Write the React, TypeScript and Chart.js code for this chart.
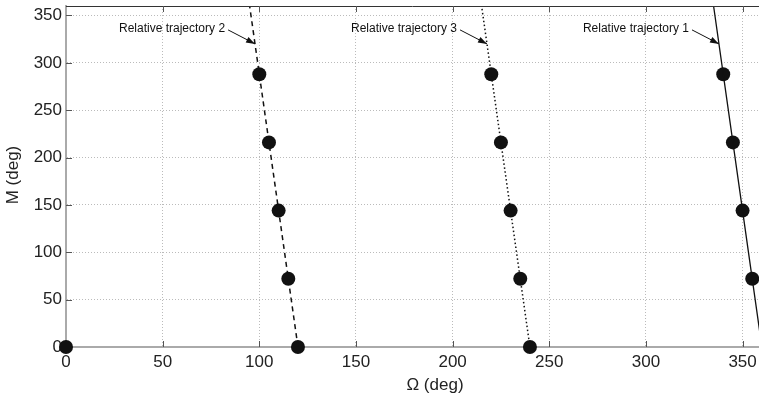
import React, { useEffect, useRef } from "react";
import { Chart, registerables } from "chart.js";

Chart.register(...registerables);

const xTicks = [0, 50, 100, 150, 200, 250, 300, 350];
const yTicks = [0, 50, 100, 150, 200, 250, 300, 350];

const trajM = [0, 72, 144, 216, 288, 360];
const traj1Omega = [360, 355, 350, 345, 340, 335];
const traj2Omega = [120, 115, 110, 105, 100, 95];
const traj3Omega = [240, 235, 230, 225, 220, 215];

const dotOmega = [0, 120, 115, 110, 105, 100, 240, 235, 230, 225, 220, 355, 350, 345, 340];
const dotM = [0, 0, 72, 144, 216, 288, 0, 72, 144, 216, 288, 72, 144, 216, 288];

const noteLabels = ["Relative trajectory 2", "Relative trajectory 3", "Relative trajectory 1"];
const noteOmega = [97.8, 217.8, 337.8];
const noteM = [320, 320, 320];

const FONT = "'Liberation Sans', Arial, Helvetica, sans-serif";

const toPts = (xs: number[], ys: number[]) => xs.map((x, i) => ({ x, y: ys[i] }));

const decoPlugin = {
  id: "deco",
  afterDatasetsDraw(chart: any) {
    const ctx = chart.ctx as CanvasRenderingContext2D;
    const { left, right, top, bottom } = chart.chartArea;
    const xs = chart.scales.x;
    const ys = chart.scales.y;
    ctx.save();
    // top border
    ctx.strokeStyle = "#333";
    ctx.lineWidth = 1;
    ctx.beginPath();
    ctx.moveTo(left, top + 0.5);
    ctx.lineTo(right, top + 0.5);
    ctx.stroke();
    // inner ticks
    ctx.strokeStyle = "#555";
    ctx.beginPath();
    xTicks.forEach((v) => {
      if (v === 0) return;
      const px = Math.round(xs.getPixelForValue(v)) + 0.5;
      ctx.moveTo(px, bottom);
      ctx.lineTo(px, bottom - 6);
      ctx.moveTo(px, top);
      ctx.lineTo(px, top + 6);
    });
    yTicks.forEach((v) => {
      if (v === 0) return;
      const py = Math.round(ys.getPixelForValue(v)) + 0.5;
      ctx.moveTo(left, py);
      ctx.lineTo(left + 6, py);
    });
    ctx.stroke();
    ctx.restore();
  },
  afterDraw(chart: any) {
    const ctx = chart.ctx as CanvasRenderingContext2D;
    const xs = chart.scales.x;
    const ys = chart.scales.y;
    ctx.save();
    // annotations
    ctx.font = `12px ${FONT}`;
    ctx.fillStyle = "#111";
    ctx.strokeStyle = "#111";
    ctx.lineWidth = 1;
    noteLabels.forEach((lab, i) => {
      const tx = xs.getPixelForValue(noteOmega[i]);
      const ty = ys.getPixelForValue(noteM[i]);
      const sx = tx - 27;
      const sy = ty - 14;
      ctx.beginPath();
      ctx.moveTo(sx, sy);
      ctx.lineTo(tx, ty);
      ctx.stroke();
      const ang = Math.atan2(ty - sy, tx - sx);
      const L = 9, W = 3;
      ctx.beginPath();
      ctx.moveTo(tx, ty);
      ctx.lineTo(tx - L * Math.cos(ang) + W * Math.sin(ang), ty - L * Math.sin(ang) - W * Math.cos(ang));
      ctx.lineTo(tx - L * Math.cos(ang) - W * Math.sin(ang), ty - L * Math.sin(ang) + W * Math.cos(ang));
      ctx.closePath();
      ctx.fill();
      ctx.textAlign = "right";
      ctx.textBaseline = "middle";
      ctx.fillText(lab, sx - 3, sy - 1);
    });
    // axis titles
    ctx.font = `17px ${FONT}`;
    ctx.fillStyle = "#222";
    ctx.textAlign = "center";
    ctx.textBaseline = "middle";
    ctx.fillText("\u03A9 (deg)", 435, 385);
    ctx.translate(13, 175);
    ctx.rotate(-Math.PI / 2);
    ctx.fillText("M (deg)", 0, 0);
    ctx.restore();
  },
};

export default function App() {
  const ref = useRef<HTMLCanvasElement | null>(null);
  useEffect(() => {
    if (!ref.current) return;
    const chart = new Chart(ref.current, {
      type: "scatter",
      data: {
        datasets: [
          {
            label: "Relative trajectory 1",
            data: toPts(traj1Omega, trajM),
            showLine: true,
            borderColor: "#111",
            borderWidth: 1.3,
            pointRadius: 0,
          },
          {
            label: "Relative trajectory 2",
            data: toPts(traj2Omega, trajM),
            showLine: true,
            borderColor: "#111",
            borderWidth: 1.5,
            borderDash: [5, 4],
            pointRadius: 0,
          },
          {
            label: "Relative trajectory 3",
            data: toPts(traj3Omega, trajM),
            showLine: true,
            borderColor: "#111",
            borderWidth: 1.5,
            borderDash: [1.5, 2.5],
            pointRadius: 0,
          },
          {
            label: "Points",
            data: toPts(dotOmega, dotM),
            showLine: false,
            pointRadius: 7,
            pointBackgroundColor: "#111",
            pointBorderWidth: 0,
            clip: false as any,
          },
        ],
      } as any,
      options: {
        animation: false,
        responsive: false,
        layout: { autoPadding: false, padding: { top: 6, right: 0, left: 0, bottom: 0 } },
        plugins: { legend: { display: false }, tooltip: { enabled: false } },
        scales: {
          x: {
            type: "linear",
            min: 0,
            max: 358.5,
            afterBuildTicks: (s: any) => {
              s.ticks = xTicks.map((v) => ({ value: v }));
            },
            afterFit: (s: any) => {
              s.height = 55;
              s.paddingLeft = 0;
              s.paddingRight = 0;
            },
            grid: { color: "#bbb", lineWidth: 1, drawTicks: false },
            border: { color: "#aaa", width: 2, dash: [1, 2] },
            ticks: {
              padding: 5,
              color: "#222",
              font: { family: FONT, size: 17 },
              maxRotation: 0,
              autoSkip: false,
            },
          },
          y: {
            type: "linear",
            min: 0,
            max: 360,
            afterBuildTicks: (s: any) => {
              s.ticks = yTicks.map((v) => ({ value: v }));
            },
            afterFit: (s: any) => {
              s.width = 66;
              s.paddingTop = 0;
              s.paddingBottom = 0;
            },
            grid: { color: "#bbb", lineWidth: 1, drawTicks: false },
            border: { color: "#aaa", width: 2, dash: [1, 2] },
            ticks: {
              padding: 4,
              color: "#222",
              font: { family: FONT, size: 17 },
              autoSkip: false,
            },
          },
        },
      } as any,
      plugins: [decoPlugin],
    });
    return () => chart.destroy();
  }, []);
  return (
    <div style={{ position: "fixed", left: 0, top: 0, width: 759, height: 402, background: "#fff" }}>
      <canvas ref={ref} width={759} height={402} style={{ width: 759, height: 402 }} />
    </div>
  );
}
